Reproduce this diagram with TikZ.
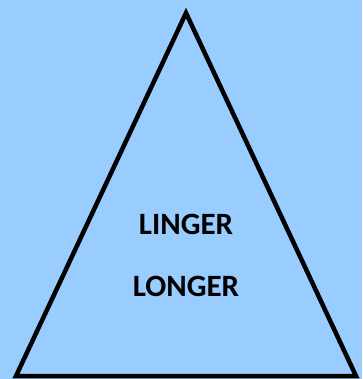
\documentclass[tikz,border=0pt]{standalone}
\usepackage{fontspec}
\setmainfont{Carlito}
\definecolor{bgblue}{HTML}{99CCFF}
\begin{document}
\begin{tikzpicture}[x=1pt,y=-1pt,
  lbl/.style={font=\fontsize{31}{33}\selectfont\bfseries, anchor=base, inner sep=0pt}]
\fill[bgblue] (0,0) rectangle (362,379);
\useasboundingbox (0,0) rectangle (362,379);
\coordinate (apex) at (186,13);
\coordinate (bl) at (16,376);
\coordinate (br) at (356,376);
\draw[line width=4.5pt, line join=miter] (apex) -- (br) -- (bl) -- cycle;
\node[lbl] (t1) at (186,234) {LINGER};
\node[lbl] (t2) at (186,296) {LONGER};
\end{tikzpicture}
\end{document}
